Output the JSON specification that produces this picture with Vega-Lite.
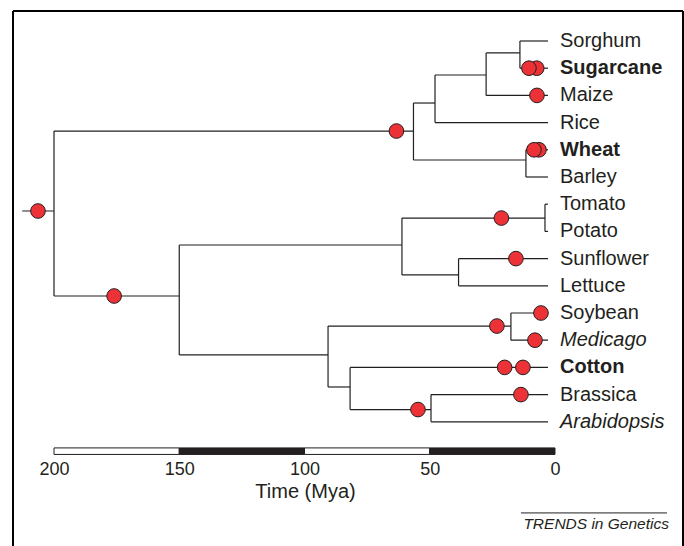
{
  "$schema": "https://vega.github.io/schema/vega-lite/v6.json",
  "autosize": "none",
  "width": 670,
  "height": 535,
  "padding": {"left": 13, "top": 11, "right": 1, "bottom": 0},
  "background": "white",
  "config": {
    "view": {"stroke": null},
    "axisX": {
      "domain": false, "ticks": false, "grid": false,
      "labelFont": "Liberation Sans", "labelFontSize": 18, "labelColor": "#231f20",
      "labelPadding": 5, "labelFlush": false, "offset": -91,
      "titleFont": "Liberation Sans", "titleFontSize": 20, "titleFontWeight": "normal",
      "titleColor": "#231f20", "titleX": 292, "titleY": 26, "titleBaseline": "top", "titleAlign": "center"
    }
  },
  "datasets": {
    "frame": [
      {"t1": 216.37, "t2": 216.37, "r1": -0.103, "r2": 19.566},
      {"t1": 216.37, "t2": -51.1, "r1": -0.103, "r2": -0.103},
      {"t1": -51.1, "t2": -51.1, "r1": -0.103, "r2": 19.566}
    ],
    "branches": [
      {"t1": 14, "t2": 2.8, "r1": 1, "r2": 1},
      {"t1": 14, "t2": 2.8, "r1": 2, "r2": 2},
      {"t1": 27.5, "t2": 14, "r1": 1.44, "r2": 1.44},
      {"t1": 27.5, "t2": 2.8, "r1": 3, "r2": 3},
      {"t1": 47.9, "t2": 27.5, "r1": 2.25, "r2": 2.25},
      {"t1": 47.9, "t2": 2.8, "r1": 4, "r2": 4},
      {"t1": 56.5, "t2": 47.9, "r1": 3.28, "r2": 3.28},
      {"t1": 11.6, "t2": 2.8, "r1": 5, "r2": 5},
      {"t1": 11.6, "t2": 2.8, "r1": 6, "r2": 6},
      {"t1": 56.5, "t2": 11.6, "r1": 5.375, "r2": 5.375},
      {"t1": 200, "t2": 56.5, "r1": 4.31, "r2": 4.31},
      {"t1": 212.7, "t2": 200, "r1": 7.25, "r2": 7.25},
      {"t1": 200, "t2": 150, "r1": 10.375, "r2": 10.375},
      {"t1": 150, "t2": 61.1, "r1": 8.5, "r2": 8.5},
      {"t1": 61.1, "t2": 4, "r1": 7.51, "r2": 7.51},
      {"t1": 4, "t2": 2.8, "r1": 7, "r2": 7},
      {"t1": 4, "t2": 2.8, "r1": 8, "r2": 8},
      {"t1": 61.1, "t2": 38.5, "r1": 9.6, "r2": 9.6},
      {"t1": 38.5, "t2": 2.8, "r1": 9, "r2": 9},
      {"t1": 38.5, "t2": 2.8, "r1": 10, "r2": 10},
      {"t1": 150, "t2": 90.6, "r1": 12.54, "r2": 12.54},
      {"t1": 90.6, "t2": 17.6, "r1": 11.48, "r2": 11.48},
      {"t1": 17.6, "t2": 2.8, "r1": 11, "r2": 11},
      {"t1": 17.6, "t2": 2.8, "r1": 12, "r2": 12},
      {"t1": 90.6, "t2": 81.8, "r1": 13.72, "r2": 13.72},
      {"t1": 81.8, "t2": 2.8, "r1": 13, "r2": 13},
      {"t1": 81.8, "t2": 49.5, "r1": 14.55, "r2": 14.55},
      {"t1": 49.5, "t2": 2.8, "r1": 14, "r2": 14},
      {"t1": 49.5, "t2": 2.8, "r1": 15, "r2": 15},
      {"t1": 14, "t2": 14, "r1": 1, "r2": 2},
      {"t1": 27.5, "t2": 27.5, "r1": 1.44, "r2": 3},
      {"t1": 47.9, "t2": 47.9, "r1": 2.25, "r2": 4},
      {"t1": 11.6, "t2": 11.6, "r1": 5, "r2": 6},
      {"t1": 56.5, "t2": 56.5, "r1": 3.28, "r2": 5.375},
      {"t1": 200, "t2": 200, "r1": 4.31, "r2": 10.375},
      {"t1": 150, "t2": 150, "r1": 8.5, "r2": 12.54},
      {"t1": 61.1, "t2": 61.1, "r1": 7.51, "r2": 9.6},
      {"t1": 4, "t2": 4, "r1": 7, "r2": 8},
      {"t1": 38.5, "t2": 38.5, "r1": 9, "r2": 10},
      {"t1": 90.6, "t2": 90.6, "r1": 11.48, "r2": 13.72},
      {"t1": 17.6, "t2": 17.6, "r1": 11, "r2": 12},
      {"t1": 81.8, "t2": 81.8, "r1": 13, "r2": 14.55},
      {"t1": 49.5, "t2": 49.5, "r1": 14, "r2": 15}
    ],
    "events": [
      {"t": 206.4, "r": 7.25},
      {"t": 63.3, "r": 4.31},
      {"t": 176, "r": 10.375},
      {"t": 7.3, "r": 2},
      {"t": 10.4, "r": 2},
      {"t": 7.2, "r": 3},
      {"t": 6.4, "r": 5},
      {"t": 8.4, "r": 5},
      {"t": 21.4, "r": 7.51},
      {"t": 15.6, "r": 9},
      {"t": 23.2, "r": 11.48},
      {"t": 5.6, "r": 11},
      {"t": 8.0, "r": 12},
      {"t": 20.1, "r": 13},
      {"t": 12.8, "r": 13},
      {"t": 13.6, "r": 14},
      {"t": 54.7, "r": 14.55}
    ],
    "taxa": [
      {"name": "Sorghum", "r": 1, "t": 2.8, "kind": "common"},
      {"name": "Sugarcane", "r": 2, "t": 2.8, "kind": "sequenced"},
      {"name": "Maize", "r": 3, "t": 2.8, "kind": "common"},
      {"name": "Rice", "r": 4, "t": 2.8, "kind": "common"},
      {"name": "Wheat", "r": 5, "t": 2.8, "kind": "sequenced"},
      {"name": "Barley", "r": 6, "t": 2.8, "kind": "common"},
      {"name": "Tomato", "r": 7, "t": 2.8, "kind": "common"},
      {"name": "Potato", "r": 8, "t": 2.8, "kind": "common"},
      {"name": "Sunflower", "r": 9, "t": 2.8, "kind": "common"},
      {"name": "Lettuce", "r": 10, "t": 2.8, "kind": "common"},
      {"name": "Soybean", "r": 11, "t": 2.8, "kind": "common"},
      {"name": "Medicago", "r": 12, "t": 2.8, "kind": "genus"},
      {"name": "Cotton", "r": 13, "t": 2.8, "kind": "sequenced"},
      {"name": "Brassica", "r": 14, "t": 2.8, "kind": "common"},
      {"name": "Arabidopsis", "r": 15, "t": 2.8, "kind": "genus"}
    ],
    "scalebar": [
      {"start": 200, "end": 150, "shade": "light"},
      {"start": 150, "end": 100, "shade": "dark"},
      {"start": 100, "end": 50, "shade": "light"},
      {"start": 50, "end": 0, "shade": "dark"}
    ]
  },
  "layer": [
    {
      "data": {"name": "scalebar"},
      "mark": {"type": "rect", "stroke": "#231f20", "strokeWidth": 1},
      "encoding": {
        "x": {"field": "start", "type": "quantitative", "scale": {"domain": [216.37, -51.1], "nice": false, "zero": false}, "axis": {"values": [200, 150, 100, 50, 0]}, "title": "Time (Mya)"},
        "x2": {"field": "end"},
        "y": {"datum": 15.96, "type": "quantitative", "scale": {"domain": [19.566, -0.103], "nice": false, "zero": false}, "axis": null},
        "y2": {"datum": 16.2},
        "fill": {"field": "shade", "type": "nominal", "scale": {"domain": ["light", "dark"], "range": ["white", "#231f20"]}, "legend": null}
      }
    },
    {
      "data": {"name": "frame"},
      "mark": {"type": "rule", "color": "black", "strokeWidth": 2},
      "encoding": {
        "x": {"field": "t1", "type": "quantitative", "axis": {"values": [200, 150, 100, 50, 0]}, "title": "Time (Mya)"},
        "x2": {"field": "t2"},
        "y": {"field": "r1", "type": "quantitative", "axis": null},
        "y2": {"field": "r2"}
      }
    },
    {
      "data": {"name": "branches"},
      "mark": {"type": "rule", "color": "#231f20", "strokeWidth": 1.2},
      "encoding": {
        "x": {"field": "t1", "type": "quantitative", "axis": {"values": [200, 150, 100, 50, 0]}, "title": "Time (Mya)"},
        "x2": {"field": "t2"},
        "y": {"field": "r1", "type": "quantitative", "axis": null},
        "y2": {"field": "r2"}
      }
    },
    {
      "data": {"name": "events"},
      "mark": {"type": "circle", "size": 215, "fill": "#ec3237", "stroke": "#231f20", "strokeWidth": 1, "opacity": 1},
      "encoding": {
        "x": {"field": "t", "type": "quantitative", "axis": {"values": [200, 150, 100, 50, 0]}, "title": "Time (Mya)"},
        "y": {"field": "r", "type": "quantitative", "axis": null}
      }
    },
    {
      "data": {"name": "taxa"},
      "transform": [{"filter": "datum.kind === 'common'"}],
      "mark": {"type": "text", "align": "left", "baseline": "middle", "dx": 12, "font": "Liberation Sans", "fontSize": 20, "color": "#231f20"},
      "encoding": {
        "x": {"field": "t", "type": "quantitative", "axis": {"values": [200, 150, 100, 50, 0]}, "title": "Time (Mya)"},
        "y": {"field": "r", "type": "quantitative", "axis": null},
        "text": {"field": "name"}
      }
    },
    {
      "data": {"name": "taxa"},
      "transform": [{"filter": "datum.kind === 'sequenced'"}],
      "mark": {"type": "text", "align": "left", "baseline": "middle", "dx": 12, "font": "Liberation Sans", "fontSize": 20, "fontWeight": "bold", "color": "#231f20"},
      "encoding": {
        "x": {"field": "t", "type": "quantitative", "axis": {"values": [200, 150, 100, 50, 0]}, "title": "Time (Mya)"},
        "y": {"field": "r", "type": "quantitative", "axis": null},
        "text": {"field": "name"}
      }
    },
    {
      "data": {"name": "taxa"},
      "transform": [{"filter": "datum.kind === 'genus'"}],
      "mark": {"type": "text", "align": "left", "baseline": "middle", "dx": 12, "font": "Liberation Sans", "fontSize": 20, "fontStyle": "italic", "color": "#231f20"},
      "encoding": {
        "x": {"field": "t", "type": "quantitative", "axis": {"values": [200, 150, 100, 50, 0]}, "title": "Time (Mya)"},
        "y": {"field": "r", "type": "quantitative", "axis": null},
        "text": {"field": "name"}
      }
    },
    {
      "data": {"values": [{"label": "TRENDS in Genetics"}]},
      "mark": {"type": "rule", "color": "#231f20", "strokeWidth": 1},
      "encoding": {
        "x": {"datum": 13.6, "type": "quantitative", "axis": {"values": [200, 150, 100, 50, 0]}, "title": "Time (Mya)"},
        "x2": {"datum": -44.7},
        "y": {"datum": 18.35, "type": "quantitative", "axis": null}
      }
    },
    {
      "data": {"values": [{"label": "TRENDS in Genetics"}]},
      "mark": {"type": "text", "align": "right", "baseline": "middle", "font": "Liberation Sans", "fontSize": 15.5, "fontStyle": "italic", "color": "#231f20"},
      "encoding": {
        "x": {"datum": -45.5, "type": "quantitative", "axis": {"values": [200, 150, 100, 50, 0]}, "title": "Time (Mya)"},
        "y": {"datum": 18.74, "type": "quantitative", "axis": null},
        "text": {"field": "label"}
      }
    }
  ]
}
